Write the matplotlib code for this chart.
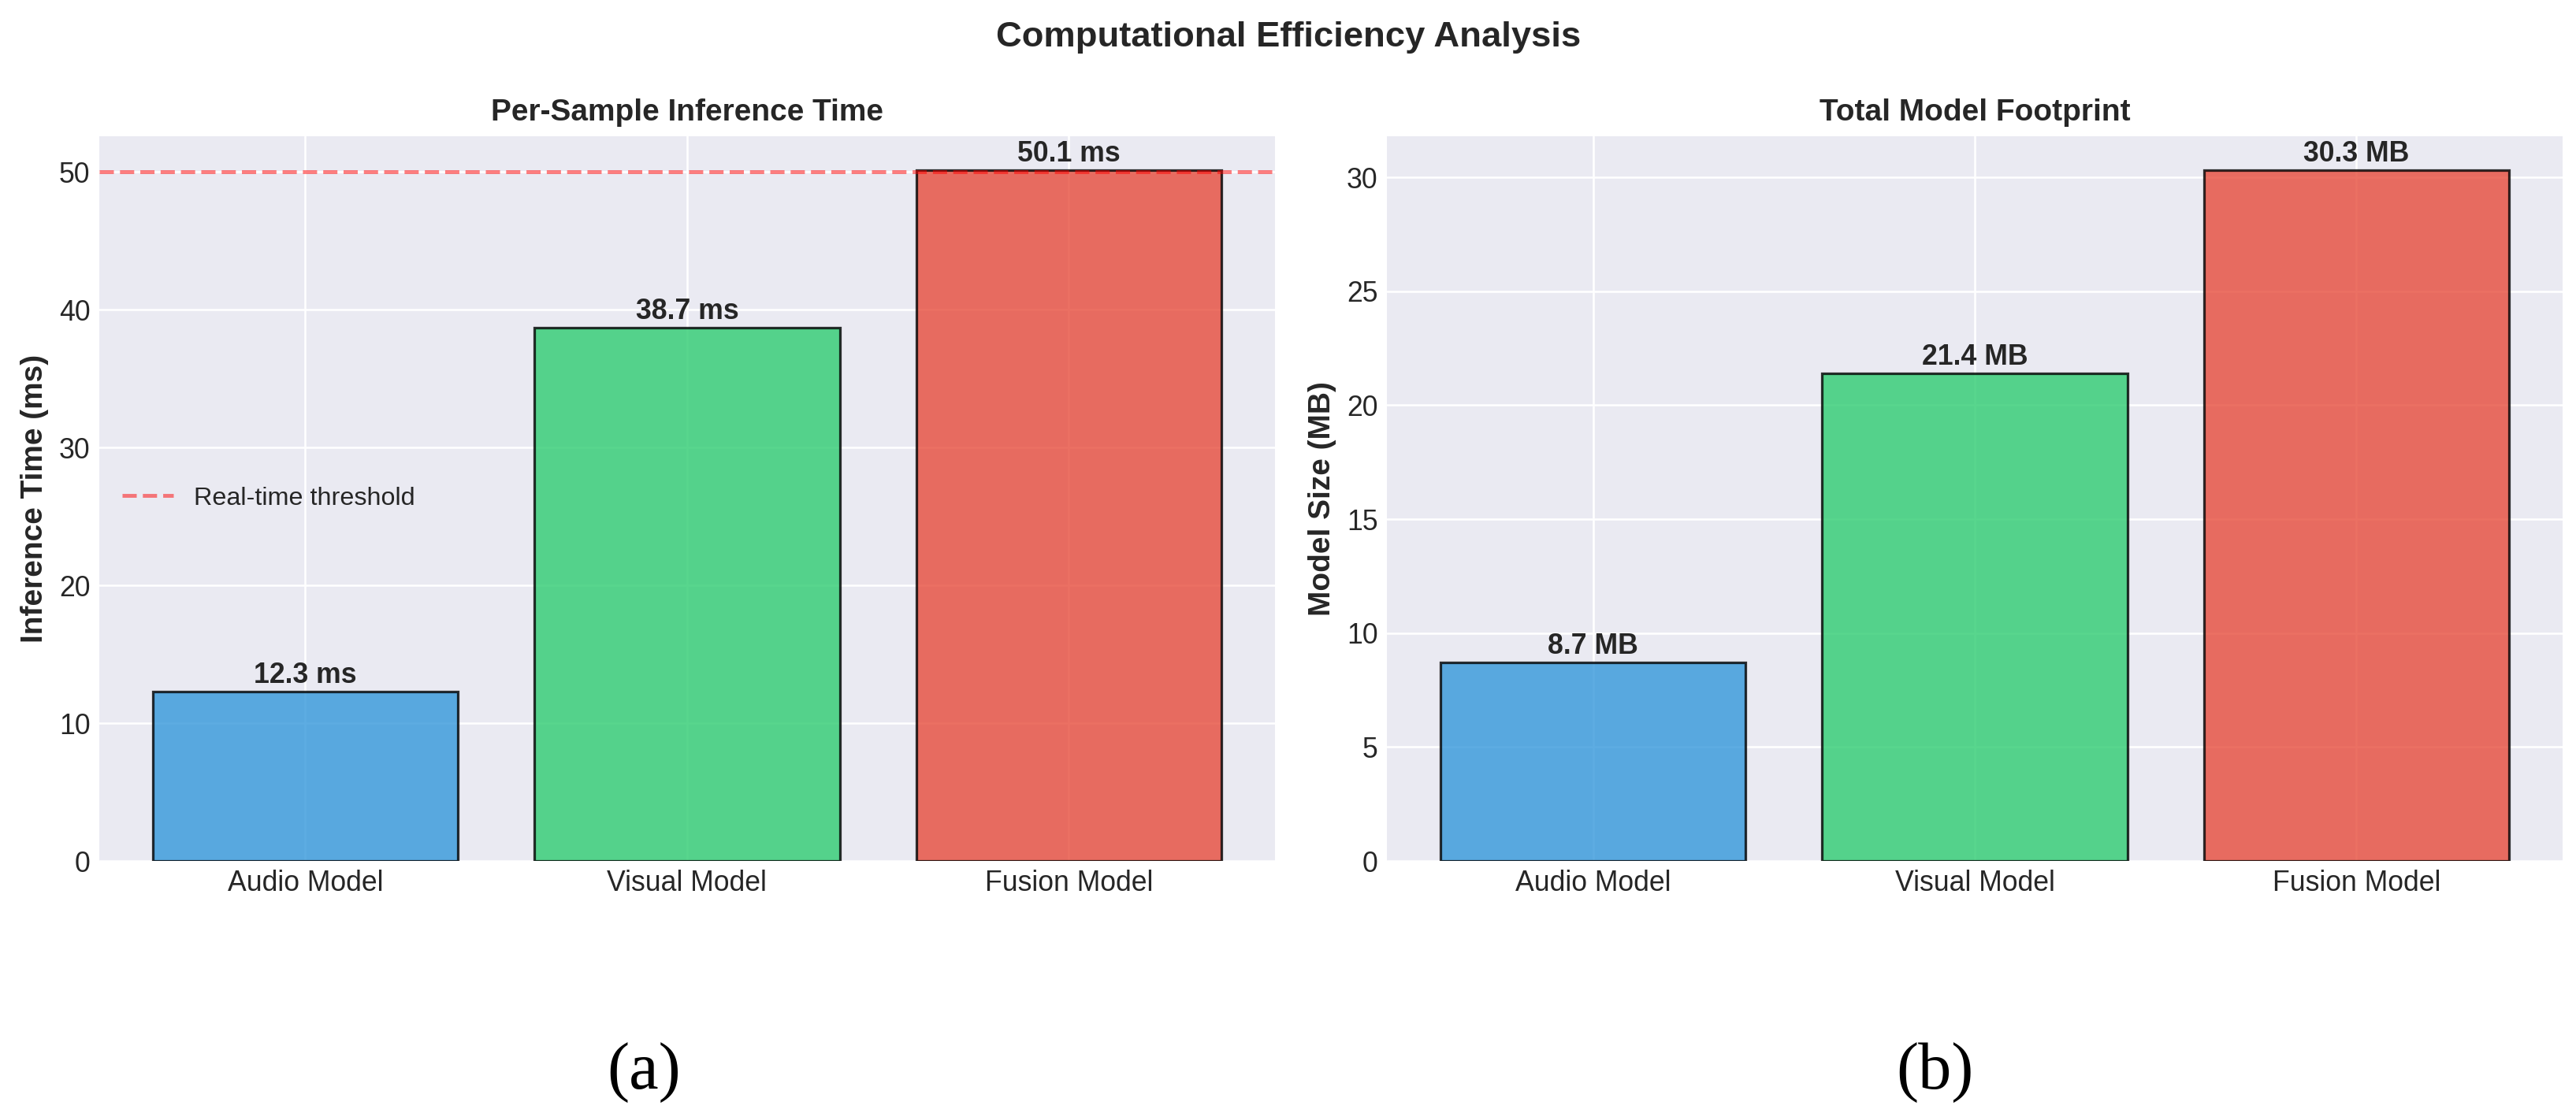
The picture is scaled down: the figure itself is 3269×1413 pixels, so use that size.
import numpy as np
import matplotlib
matplotlib.use('Agg')
import matplotlib.pyplot as plt

# Data
models = ['Audio Model', 'Visual Model', 'Fusion Model']
inference_ms = [12.3, 38.7, 50.1]
model_size_mb = [8.7, 21.4, 30.3]
bar_colors = ['#3498db', '#2ecc71', '#e74c3c']
realtime_threshold = 50

plt.style.use('seaborn-v0_8-darkgrid')
plt.rcParams['font.family'] = ['Liberation Sans', 'DejaVu Sans']
plt.rcParams['xtick.labelsize'] = 11
plt.rcParams['ytick.labelsize'] = 11

fig, (ax1, ax2) = plt.subplots(1, 2, figsize=(14, 6.05), dpi=233.57)
fig.subplots_adjust(left=0.0385, right=0.9945, bottom=0.2265, top=0.8778, wspace=0.0952)

x = np.arange(len(models))

# Inference time panel
bars1 = ax1.bar(x, inference_ms, color=bar_colors, alpha=0.8, edgecolor='black', linewidth=1)
ax1.axhline(y=realtime_threshold, color='red', linestyle='--', linewidth=1.5, alpha=0.5,
            label='Real-time threshold')
for bar, val in zip(bars1, inference_ms):
    ax1.annotate(f'{val} ms', (bar.get_x() + bar.get_width() / 2, bar.get_height()),
                 xytext=(0, 1), textcoords='offset points',
                 ha='center', va='bottom', fontsize=11, fontweight='bold')
ax1.set_xticks(x)
ax1.set_xticklabels(models)
ax1.set_ylabel('Inference Time (ms)', fontsize=12, fontweight='bold')
ax1.set_title('Per-Sample Inference Time', fontsize=12, fontweight='bold')
ax1.legend(loc='center left', fontsize=10)

# Model size panel
bars2 = ax2.bar(x, model_size_mb, color=bar_colors, alpha=0.8, edgecolor='black', linewidth=1)
for bar, val in zip(bars2, model_size_mb):
    ax2.annotate(f'{val} MB', (bar.get_x() + bar.get_width() / 2, bar.get_height()),
                 xytext=(0, 1), textcoords='offset points',
                 ha='center', va='bottom', fontsize=11, fontweight='bold')
ax2.set_xticks(x)
ax2.set_xticklabels(models)
ax2.set_ylabel('Model Size (MB)', fontsize=12, fontweight='bold')
ax2.set_title('Total Model Footprint', fontsize=12, fontweight='bold')

fig.text(0.5, 0.958, 'Computational Efficiency Analysis', ha='center', va='baseline',
         fontsize=14, fontweight='bold')

# sub-figure captions
fig.text(0.25, 0.022, '(a)', ha='center', va='baseline', fontsize=26,
         family='Liberation Serif', color='black')
fig.text(0.751, 0.022, '(b)', ha='center', va='baseline', fontsize=26,
         family='Liberation Serif', color='black')

plt.savefig('out.png', dpi=233.57)
